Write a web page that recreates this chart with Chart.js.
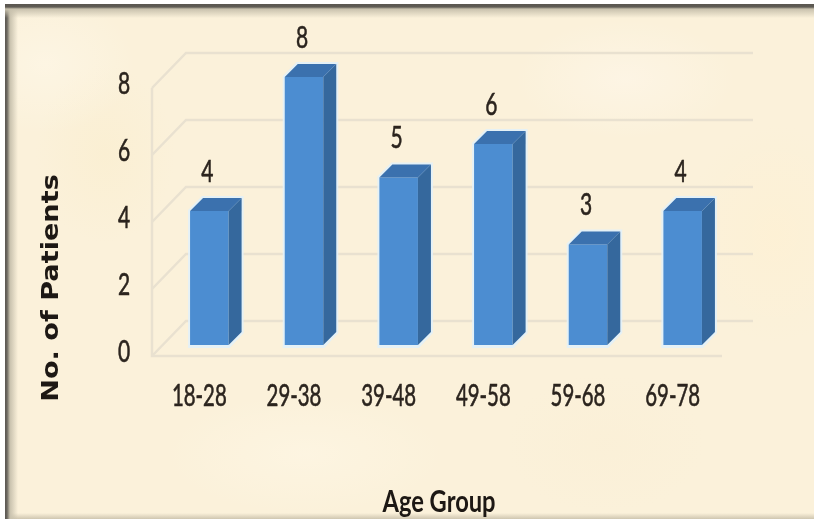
<!DOCTYPE html>
<html>
<head>
<meta charset="utf-8">
<title>Patients by age group</title>
<script src="https://cdn.jsdelivr.net/npm/chart.js@4"></script>
<style>
  html, body { margin: 0; padding: 0; background: #fff; overflow: hidden; }
  #stage { position: relative; width: 814px; height: 519px; }
  /* parchment panel with a dark edge along the top and left */
  #panel {
    position: absolute; left: 5px; top: 4px; right: 0; bottom: 0;
    background:
      linear-gradient(to bottom, #5a5650 0, #5f5b54 3px, #c9c2ae 5px, rgba(240,230,205,0) 14px),
      linear-gradient(to right, #5a5650 0, #6b675f 2px, #c9c2ae 5px, rgba(240,230,205,0) 13px),
      linear-gradient(to top, #cfc6b0 0, rgba(240,230,205,0) 6px),
      radial-gradient(ellipse 90px 70px at 40px 60px, rgba(255,250,238,.45), rgba(255,250,238,0)),
      radial-gradient(ellipse 110px 60px at 620px 75px, rgba(255,248,238,.5), rgba(255,248,238,0)),
      radial-gradient(ellipse 70px 90px at 100px 150px, rgba(250,236,200,.4), rgba(250,236,200,0)),
      radial-gradient(ellipse 140px 60px at 300px 450px, rgba(255,248,232,.5), rgba(255,248,232,0)),
      radial-gradient(ellipse 100px 70px at 600px 440px, rgba(250,238,212,.4), rgba(250,238,212,0)),
      radial-gradient(ellipse 90px 110px at 770px 230px, rgba(255,240,208,.5), rgba(255,240,208,0)),
      #fbf1da;
  }
  canvas { position: absolute; left: 0; top: 0; }
</style>
</head>
<body>
<div id="stage">
  <div id="panel"></div>
  <canvas id="ageChart" width="814" height="519"></canvas>
</div>
<script>
const ageGroups = ["18-28", "29-38", "39-48", "49-58", "59-68", "69-78"];
const patientCounts = [4, 8, 5, 6, 3, 4];
const yTicks = [0, 2, 4, 6, 8];
const xTitle = "Age Group";
const yTitle = "No. of Patients";

const textColor = "#2b241e";
const labelFont = '30px Lato, "Liberation Sans", sans-serif';
const gridColor = "#e9e1d0";

// fake 3D: bar extrusion depth, and how far the walls sit from the bars
const barDepth = 13;
const wallFront = { dx: -10, dy: 11 };
const wallBack = { dx: 24, dy: -24 };

// no condensed face is available, so text gets squeezed sideways when drawn
function drawText(ctx, text, x, y, font, stretchX, color, weight) {
  ctx.save();
  ctx.translate(x, y);
  ctx.scale(stretchX, 1);
  ctx.font = font;
  ctx.fillStyle = color;
  ctx.strokeStyle = color;
  ctx.lineWidth = weight || 0;
  ctx.textAlign = "center";
  ctx.textBaseline = "middle";
  ctx.fillText(text, 0, 0);
  if (weight) ctx.strokeText(text, 0, 0);
  ctx.restore();
}

// back walls and floor, drawn under the bars
const wallsPlugin = {
  id: "walls",
  beforeDatasetsDraw(chart) {
    const { ctx, chartArea } = chart;
    const y = chart.scales.y;
    const frontX = chartArea.left + wallFront.dx;
    const backX = chartArea.left + wallBack.dx;
    const backRight = chartArea.right + wallBack.dx - 1;
    ctx.save();
    ctx.strokeStyle = gridColor;
    ctx.lineWidth = 2.5;
    yTicks.forEach((v) => {
      const py = y.getPixelForValue(v);
      ctx.beginPath();
      ctx.moveTo(frontX, py + wallFront.dy);
      ctx.lineTo(backX, py + wallBack.dy);
      ctx.lineTo(backRight, py + wallBack.dy);
      ctx.stroke();
    });
    // left edge and front of the floor
    const floorY = y.getPixelForValue(0) + wallFront.dy;
    ctx.beginPath();
    ctx.moveTo(frontX, y.getPixelForValue(8) + wallFront.dy);
    ctx.lineTo(frontX, floorY);
    ctx.lineTo(chartArea.right - 8, floorY);
    ctx.stroke();

    // pale halo round each bar
    chart.getDatasetMeta(0).data.forEach((bar) => {
      const l = bar.x - bar.width / 2;
      const r = bar.x + bar.width / 2;
      ctx.fillStyle = "rgba(226,241,248,0.9)";
      ctx.beginPath();
      ctx.moveTo(l - 2, bar.base + 3);
      ctx.lineTo(l - 2, bar.y - 1);
      ctx.lineTo(l + barDepth - 1, bar.y - barDepth - 2);
      ctx.lineTo(r + barDepth + 2, bar.y - barDepth - 2);
      ctx.lineTo(r + barDepth + 2, bar.base - barDepth + 1);
      ctx.lineTo(r + 1, bar.base + 3);
      ctx.closePath();
      ctx.fill();
    });
    ctx.restore();
  },
  afterDatasetsDraw(chart) {
    const { ctx } = chart;
    ctx.save();
    chart.getDatasetMeta(0).data.forEach((bar, i) => {
      const l = bar.x - bar.width / 2;
      const r = bar.x + bar.width / 2;
      // side face
      ctx.fillStyle = "#35689d";
      ctx.beginPath();
      ctx.moveTo(r, bar.y);
      ctx.lineTo(r + barDepth, bar.y - barDepth);
      ctx.lineTo(r + barDepth, bar.base - barDepth);
      ctx.lineTo(r, bar.base);
      ctx.closePath();
      ctx.fill();
      // top face
      ctx.fillStyle = "#3b71ae";
      ctx.beginPath();
      ctx.moveTo(l, bar.y);
      ctx.lineTo(l + barDepth, bar.y - barDepth);
      ctx.lineTo(r + barDepth, bar.y - barDepth);
      ctx.lineTo(r, bar.y);
      ctx.closePath();
      ctx.fill();
      // value above the bar
      drawText(ctx, String(patientCounts[i]), bar.x - 2, bar.y - 39, labelFont, 0.7, textColor, 0.6);
    });
    ctx.restore();
  },
  afterDraw(chart) {
    const { ctx } = chart;
    const x = chart.scales.x;
    const y = chart.scales.y;
    // tick labels, placed from the scales
    ageGroups.forEach((name, i) => {
      drawText(ctx, name, x.getPixelForTick(i) - 10, 396, labelFont, 0.68, textColor, 0.6);
    });
    yTicks.forEach((v) => {
      drawText(ctx, String(v), 124, y.getPixelForValue(v) + 7, labelFont, 0.7, textColor, 0.6);
    });
    // axis titles
    drawText(ctx, xTitle, 439, 502, 'bold 30px Lato, "Liberation Sans", sans-serif', 0.79, "#1d1814");
    ctx.save();
    ctx.translate(52, 288);
    ctx.rotate(-Math.PI / 2);
    drawText(ctx, yTitle, 0, 0, 'bold 23px "DejaVu Sans", sans-serif', 1.18, "#1d1814");
    ctx.restore();
  },
};

const ageChart = new Chart(document.getElementById("ageChart").getContext("2d"), {
  type: "bar",
  data: {
    labels: ageGroups,
    datasets: [
      {
        label: "No. of Patients",
        data: patientCounts,
        backgroundColor: "#4c8dd1",
        borderWidth: 0,
        categoryPercentage: 1,
        barPercentage: 0.407,
      },
    ],
  },
  options: {
    responsive: false,
    animation: false,
    layout: { padding: { top: 77, right: 84, bottom: 0, left: 0 } },
    plugins: {
      legend: { display: false },
      tooltip: { enabled: false },
    },
    scales: {
      x: {
        grid: { display: false },
        border: { display: false },
        afterFit: (scale) => { scale.height = 174; },
        ticks: { display: false },
      },
      y: {
        min: 0,
        max: 8,
        grid: { display: false },
        border: { display: false },
        afterFit: (scale) => { scale.width = 162; },
        afterBuildTicks: (scale) => { scale.ticks = yTicks.map((v) => ({ value: v })); },
        ticks: { display: false },
      },
    },
  },
  plugins: [wallsPlugin],
});
</script>
</body>
</html>
